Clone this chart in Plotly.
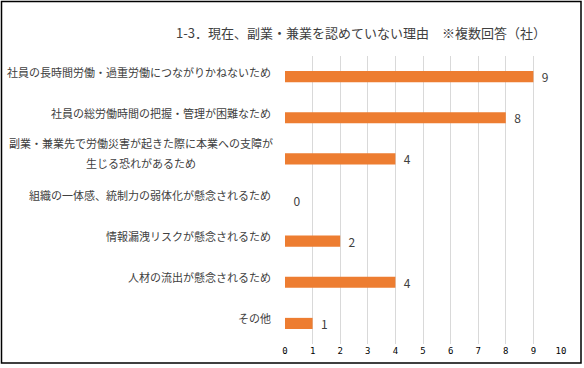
import plotly.graph_objects as go

categories = [
    "社員の長時間労働・過重労働につながりかねないため",
    "社員の総労働時間の把握・管理が困難なため",
    "副業・兼業先で労働災害が起きた際に本業への支障が<br>生じる恐れがあるため",
    "組織の一体感、統制力の弱体化が懸念されるため",
    "情報漏洩リスクが懸念されるため",
    "人材の流出が懸念されるため",
    "その他",
]
values = [9, 8, 4, 0, 2, 4, 1]
x_ticks = list(range(0, 11))
title_text = "1-3．現在、副業・兼業を認めていない理由　※複数回答（社）"

W, H = 584, 368
L, R, T, B = 285, 23, 56, 24
PW, PH = W - L - R, H - T - B


def px(x):
    return (x - L) / PW


def py(y):
    return (H - B - y) / PH


fig = go.Figure()
fig.add_trace(go.Bar(
    y=categories, x=values, orientation="h",
    marker=dict(color="#ED7D31", line=dict(width=0)),
    width=0.27,
    text=[f"  {v}" for v in values], textposition="outside",
    constraintext="none",
    textfont=dict(family="Noto Sans CJK JP", size=12, color="#404040"),
    cliponaxis=False,
    hoverinfo="skip",
))

# category labels: lines centered, block right-aligned, sitting slightly above bar centre
LINE_GAP = 20
for c in categories:
    lines = c.split("<br>")
    n = len(lines)
    top_shift = 5 + (n - 1) * (LINE_GAP / 2 + 1)
    for i, ln in enumerate(lines):
        fig.add_annotation(
            x=0, y=c, xref="x", yref="y", text=ln, showarrow=False,
            xanchor="center" if n > 1 else "right", yanchor="middle",
            xshift=-12 - (132 if n > 1 else 0), yshift=top_shift - i * LINE_GAP,
            font=dict(family="Noto Sans CJK JP", size=11, color="#404040"),
        )

fig.add_annotation(
    x=px(361), y=py(33), xref="paper", yref="paper", text=title_text,
    showarrow=False, xanchor="center", yanchor="middle",
    font=dict(family="Noto Sans CJK JP", size=13, color="#404040"),
)

fig.add_shape(type="rect", xref="paper", yref="paper",
              x0=px(1.5), x1=px(581), y0=py(1.5), y1=py(363),
              line=dict(color="black", width=1.5))

fig.update_layout(
    width=W, height=H,
    margin=dict(l=L, r=R, t=T, b=B),
    paper_bgcolor="white", plot_bgcolor="white",
    showlegend=False,
    xaxis=dict(range=[0, 10], tickvals=x_ticks, showgrid=True, gridcolor="#D9D9D9",
               gridwidth=1, zeroline=False, showline=False, ticks="",
               tickfont=dict(family="DejaVu Sans Mono", size=9, color="#000000"),
               fixedrange=True),
    yaxis=dict(autorange="reversed", showticklabels=False, showgrid=False,
               zeroline=False, showline=False, ticks="", fixedrange=True),
)
fig.write_html("out.html")
